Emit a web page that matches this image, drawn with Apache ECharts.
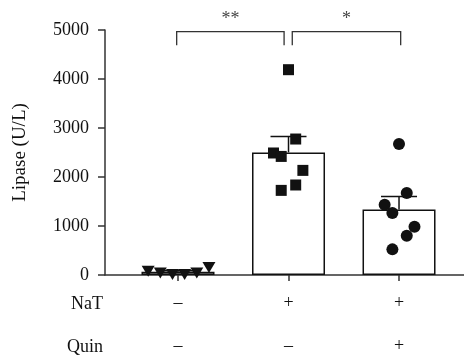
<!DOCTYPE html>
<html>
<head>
<meta charset="utf-8">
<script src="https://cdn.jsdelivr.net/npm/echarts@6/dist/echarts.min.js"></script>
<style>
  html, body { margin: 0; padding: 0; background: #fff; }
  #chart { width: 464px; height: 362px; }
</style>
</head>
<body>
<div id="chart"></div>
<script>
// groups sit at x = 0, 1, 2 on a value axis
const groupPos = [0, 1, 2];
const natRow = ['–', '+', '+'];
const quinRow = ['–', '–', '+'];
const rowNames = ['NaT', 'Quin'];
const yTicks = [0, 1000, 2000, 3000, 4000, 5000];

const barMeans = [67, 2502, 1339];
const barUpper = [85, 2828, 1604];

// [x (group position + jitter), value]
const ctrlPoints = [[-0.27, 75], [-0.16, 40], [-0.05, 10], [0.06, 10], [0.17, 40], [0.28, 155]];
const natPoints = [[1.0, 4190], [1.065, 2775], [0.864, 2490], [0.934, 2420], [1.13, 2135], [1.065, 1837], [0.934, 1727]];
const quinPoints = [[2.0, 2673], [2.07, 1673], [1.87, 1435], [1.94, 1265], [2.14, 986], [2.07, 802], [1.94, 523]];

// [x1, x2, y, yDrop, label]
const brackets = [
  [-0.012, 0.96, 4965, 4690, '**'],
  [1.034, 2.015, 4965, 4690, '*']
];

const font = '"Liberation Serif", "DejaVu Serif", serif';
const ink = '#111';

const chart = echarts.init(document.getElementById('chart'));

const errorData = groupPos.map((x, i) => [x, barMeans[i], barUpper[i]]);

const option = {
  animation: false,
  grid: { left: 105, right: 0, top: 30, bottom: 87, outerBoundsMode: 'none', containLabel: false },
  xAxis: {
    type: 'value',
    min: -0.6606,
    max: 2.588,
    splitLine: { show: false },
    axisLine: { show: true, lineStyle: { color: '#333', width: 1.5 } },
    axisTick: { show: true, customValues: groupPos, length: 6, lineStyle: { color: '#333', width: 1.5 } },
    axisLabel: {
      customValues: groupPos,
      margin: 7,
      fontFamily: font,
      fontSize: 18,
      color: ink,
      lineHeight: 43,
      formatter: (v) => {
        const i = groupPos.indexOf(Math.round(v));
        return natRow[i] + '\n' + quinRow[i];
      }
    }
  },
  yAxis: {
    type: 'value',
    min: 0,
    max: 5000,
    interval: 1000,
    name: 'Lipase (U/L)',
    nameLocation: 'middle',
    nameGap: 75,
    nameTextStyle: { fontFamily: font, fontSize: 19, color: ink },
    splitLine: { show: false },
    axisLine: { show: true, onZero: false, lineStyle: { color: '#333', width: 1.5 } },
    axisTick: { show: true, length: 7, lineStyle: { color: '#333', width: 1.5 } },
    axisLabel: {
      margin: 16,
      fontFamily: font,
      fontSize: 18,
      color: ink,
      formatter: (v) => (yTicks.indexOf(v) >= 0 ? String(v) : '')
    }
  },
  graphic: [
    { type: 'text', x: 103, y: 304, style: { text: rowNames[0], fontFamily: font, fontSize: 18, fill: ink, align: 'right', verticalAlign: 'middle' } },
    { type: 'text', x: 103, y: 347, style: { text: rowNames[1], fontFamily: font, fontSize: 18, fill: ink, align: 'right', verticalAlign: 'middle' } }
  ],
  series: [
    {
      type: 'bar',
      data: groupPos.map((x, i) => [x, barMeans[i]]),
      barWidth: 73,
      itemStyle: { color: '#fff', borderColor: ink, borderWidth: 1.5 },
      z: 1
    },
    {
      type: 'custom',
      data: errorData,
      z: 2,
      renderItem: (params, api) => {
        const x = api.value(0);
        const top = api.coord([x, api.value(1)]);
        const up = api.coord([x, api.value(2)]);
        const half = 18;
        return {
          type: 'group',
          children: [
            { type: 'line', shape: { x1: top[0], y1: top[1], x2: up[0], y2: up[1] }, style: { stroke: ink, lineWidth: 1.5 } },
            { type: 'line', shape: { x1: up[0] - half, y1: up[1], x2: up[0] + half, y2: up[1] }, style: { stroke: ink, lineWidth: 1.5 } }
          ]
        };
      }
    },
    {
      type: 'scatter',
      data: ctrlPoints,
      symbol: 'triangle',
      symbolRotate: 180,
      symbolSize: [13, 11],
      itemStyle: { color: ink, opacity: 1 },
      z: 3
    },
    {
      type: 'scatter',
      data: natPoints,
      symbol: 'rect',
      symbolSize: 11,
      itemStyle: { color: ink, opacity: 1 },
      z: 3
    },
    {
      type: 'scatter',
      data: quinPoints,
      symbol: 'circle',
      symbolSize: 12,
      itemStyle: { color: ink, opacity: 1 },
      z: 3
    },
    {
      type: 'custom',
      data: brackets,
      clip: false,
      z: 4,
      renderItem: (params, api) => {
        const b = brackets[params.dataIndex];
        const p1 = api.coord([b[0], b[2]]);
        const p2 = api.coord([b[1], b[2]]);
        const d1 = api.coord([b[0], b[3]]);
        return {
          type: 'group',
          children: [
            {
              type: 'polyline',
              shape: { points: [[p1[0], d1[1]], p1, p2, [p2[0], d1[1]]] },
              style: { stroke: '#333', lineWidth: 1.3, fill: null }
            },
            {
              type: 'text',
              x: (p1[0] + p2[0]) / 2,
              y: p1[1] - 12,
              style: { text: b[4], fontFamily: font, fontSize: 18, fill: '#444', align: 'center', verticalAlign: 'middle' }
            }
          ]
        };
      }
    }
  ]
};

chart.setOption(option);
</script>
</body>
</html>
